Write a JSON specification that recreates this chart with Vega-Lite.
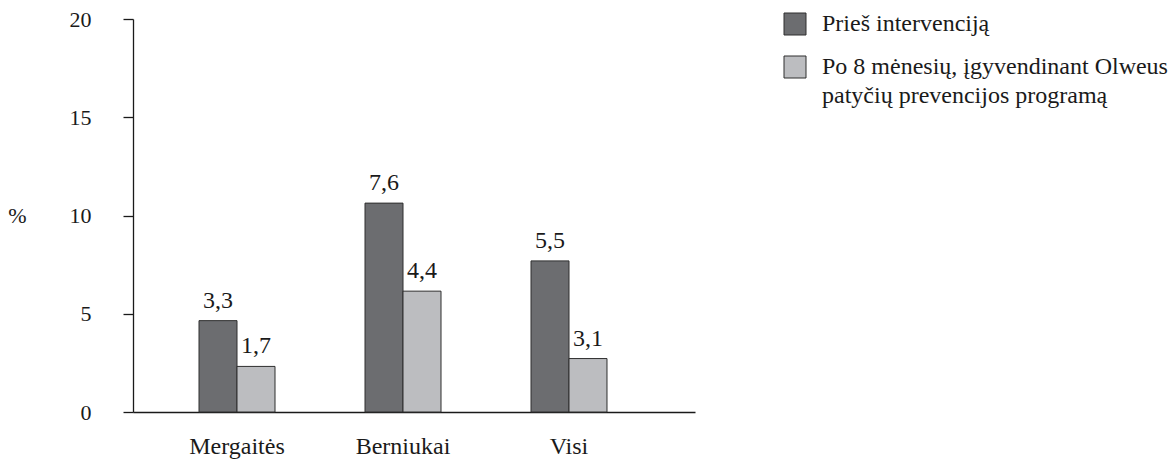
{
  "$schema": "https://vega.github.io/schema/vega-lite/v6.json",
  "width": 562,
  "height": 393,
  "autosize": {"type": "none"},
  "padding": {"left": 133, "top": 19, "right": 479, "bottom": 48},
  "config": {
    "view": {"stroke": null},
    "font": "Times New Roman",
    "legend": {"labelColor": "#1a1a1a"}
  },
  "data": {
    "values": [
      {"group": "Mergaitės", "series": "Prieš intervenciją", "value": 4.65, "label": "3,3"},
      {"group": "Mergaitės", "series": "Po 8 mėnesių, įgyvendinant Olweus patyčių prevencijos programą", "value": 2.32, "label": "1,7"},
      {"group": "Berniukai", "series": "Prieš intervenciją", "value": 10.63, "label": "7,6"},
      {"group": "Berniukai", "series": "Po 8 mėnesių, įgyvendinant Olweus patyčių prevencijos programą", "value": 6.15, "label": "4,4"},
      {"group": "Visi", "series": "Prieš intervenciją", "value": 7.69, "label": "5,5"},
      {"group": "Visi", "series": "Po 8 mėnesių, įgyvendinant Olweus patyčių prevencijos programą", "value": 2.72, "label": "3,1"}
    ]
  },
  "encoding": {
    "x": {
      "field": "group",
      "type": "nominal",
      "sort": ["Mergaitės", "Berniukai", "Visi"],
      "scale": {"paddingInner": 0.5422, "paddingOuter": 0.4639, "align": 0.4286},
      "axis": {
        "title": null,
        "labelAngle": 0,
        "ticks": false,
        "tickSize": 0,
        "labelPadding": 41,
        "labelBaseline": "alphabetic",
        "labelFont": "Times New Roman",
        "labelColor": "#1a1a1a",
        "labelFontSize": 24,
        "domainColor": "#1a1a1a",
        "domainWidth": 1.3
      }
    },
    "xOffset": {
      "field": "series",
      "type": "nominal",
      "sort": ["Prieš intervenciją", "Po 8 mėnesių, įgyvendinant Olweus patyčių prevencijos programą"],
      "scale": {"paddingInner": 0, "paddingOuter": 0}
    },
    "y": {
      "field": "value",
      "type": "quantitative",
      "scale": {"domain": [0, 20], "nice": false},
      "axis": {
        "values": [0, 5, 10, 15, 20],
        "grid": false,
        "tickSize": 10,
        "tickWidth": 1.3,
        "tickColor": "#1a1a1a",
        "domainColor": "#1a1a1a",
        "domainWidth": 1.3,
        "labelPadding": 32,
        "labelFont": "serif",
        "labelColor": "#1a1a1a",
        "labelFontSize": 22,
        "title": "%",
        "titleFont": "Liberation Serif",
        "titleColor": "#1a1a1a",
        "titleAngle": 0,
        "titleFontSize": 22,
        "titleFontWeight": "normal",
        "titleX": -116,
        "titleY": 196,
        "titleAlign": "center",
        "titleBaseline": "middle"
      }
    }
  },
  "layer": [
    {
      "mark": {"type": "bar", "stroke": "#2e2e2e", "strokeWidth": 1},
      "encoding": {
        "color": {
          "field": "series",
          "type": "nominal",
          "scale": {
            "domain": ["Prieš intervenciją", "Po 8 mėnesių, įgyvendinant Olweus patyčių prevencijos programą"],
            "range": ["#6c6d70", "#bcbdc0"]
          },
          "legend": {
            "title": null,
            "orient": "none",
            "legendX": 650,
            "legendY": -7,
            "symbolType": "square",
            "symbolSize": 484,
            "symbolStrokeColor": "#2e2e2e",
            "symbolStrokeWidth": 1,
            "symbolOpacity": 1,
            "labelFont": "Liberation Serif",
            "labelFontSize": 24,
            "labelOffset": 15,
            "labelLimit": 0,
            "rowPadding": 17,
            "labelExpr": "indexof(datum.label, 'Olweus') > 0 ? ['Po 8 mėnesių, įgyvendinant Olweus', 'patyčių prevencijos programą'] : datum.label",
            "encode": {"labels": {"update": {"lineHeight": {"value": 29}}}}
          }
        }
      }
    },
    {
      "mark": {"type": "text", "baseline": "alphabetic", "dy": -13, "fontSize": 24, "color": "#1a1a1a", "font": "Liberation Serif"},
      "encoding": {"text": {"field": "label"}}
    }
  ]
}
